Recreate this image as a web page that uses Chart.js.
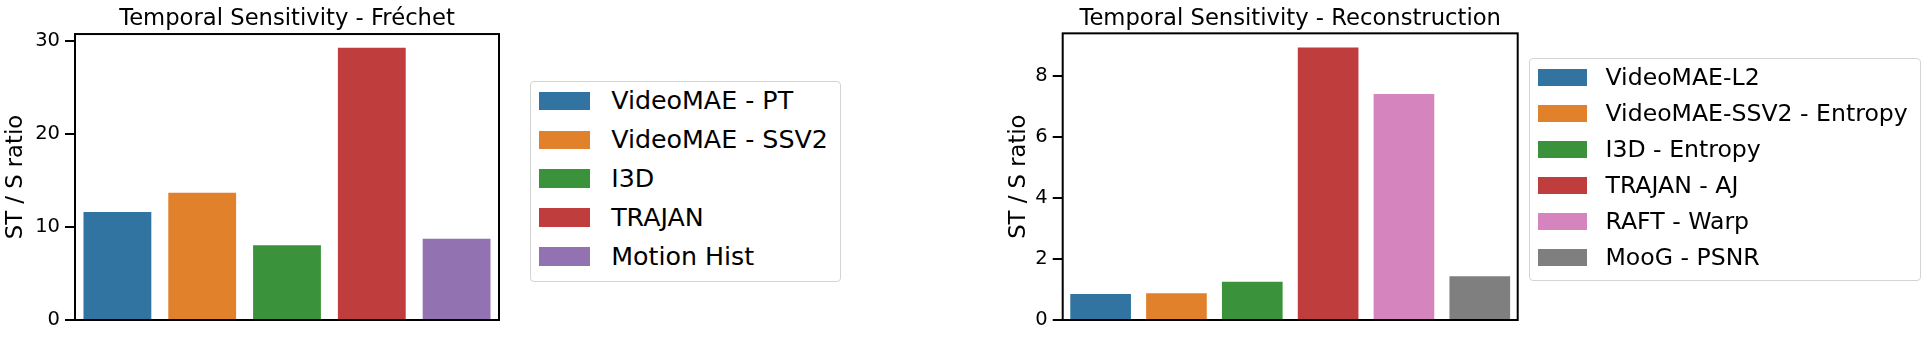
<!DOCTYPE html>
<html>
<head>
<meta charset="utf-8">
<script src="https://cdn.jsdelivr.net/npm/chart.js@4.4.1/dist/chart.umd.min.js"></script>
<style>
  html, body { margin: 0; padding: 0; background: #fff; }
  body { width: 1924px; height: 338px; position: relative; overflow: hidden; font-family: "DejaVu Sans", sans-serif; }
  canvas { position: absolute; top: 0; }
  .legend { position: absolute; box-sizing: border-box; border: 1.5px solid #d4d4d4; border-radius: 4px; background: rgba(255,255,255,0.85); }
  .row { position: absolute; display: flex; align-items: center; white-space: nowrap; color: #000; }
  .patch { display: inline-block; box-sizing: border-box; flex: none; }
  .lbl { line-height: 1; }
</style>
</head>
<body>
<canvas id="c1" width="525" height="338" style="left:0px"></canvas>
<canvas id="c2" width="540" height="338" style="left:1000px"></canvas>
<div id="leg1" class="legend"></div>
<div id="leg2" class="legend"></div>
<script>
// ---- data ----
const frechetCategories = ["VideoMAE - PT", "VideoMAE - SSV2", "I3D", "TRAJAN", "Motion Hist"];
const frechetValues = [11.63, 13.71, 8.04, 29.32, 8.76];
const frechetColors = ["#3274a1", "#e1812c", "#3a923a", "#c03d3e", "#9372b2"];
const frechetTicks = [0, 10, 20, 30];
const frechetMax = 30.79;

const reconCategories = ["VideoMAE-L2", "VideoMAE-SSV2 - Entropy", "I3D - Entropy", "TRAJAN - AJ", "RAFT - Warp", "MooG - PSNR"];
const reconValues = [0.85, 0.873, 1.255, 8.93, 7.40, 1.43];
const reconColors = ["#3274a1", "#e1812c", "#3a923a", "#c03d3e", "#d684bd", "#7f7f7f"];
const reconTicks = [0, 2, 4, 6, 8];
const reconMax = 9.39;

const yLabel = "ST / S ratio";
const titleLeft = "Temporal Sensitivity - Fréchet";
const titleRight = "Temporal Sensitivity - Reconstruction";

const FONT = "DejaVu Sans";

const framePlugin = {
  id: 'frame',
  afterDatasetsDraw(chart) {
    const {ctx, chartArea: a} = chart;
    ctx.save();
    ctx.strokeStyle = '#000';
    ctx.lineWidth = 2;
    ctx.strokeRect(a.left, a.top, a.right - a.left, a.bottom - a.top);
    ctx.restore();
  }
};

function makeChart(id, cats, vals, colors, ticks, ymax, title, cfg) {
  return new Chart(document.getElementById(id), {
    type: 'bar',
    data: {
      labels: cats,
      datasets: [{
        data: vals,
        backgroundColor: colors,
        borderWidth: 0,
        categoryPercentage: 1.0,
        barPercentage: 0.8
      }]
    },
    options: {
      responsive: false,
      animation: false,
      devicePixelRatio: 1,
      layout: { padding: { left: cfg.padLeft, top: 0, right: cfg.padRight, bottom: cfg.padBottom } },
      plugins: {
        legend: { display: false },
        tooltip: { enabled: false },
        title: {
          display: true,
          fullSize: false,
          align: 'center',
          text: title,
          color: '#000',
          font: { family: FONT, size: 22.7, weight: 'normal' },
          padding: { top: cfg.titleTop, bottom: cfg.titleBottom }
        }
      },
      scales: {
        x: { display: false },
        y: {
          min: 0,
          max: ymax,
          afterBuildTicks(s) { s.ticks = ticks.map(v => ({ value: v })); },
          afterFit(s) { s.width = cfg.yWidth; },
          border: { display: false },
          grid: { display: true, drawOnChartArea: false, drawTicks: true, tickLength: 10, color: '#000', lineWidth: 2 },
          ticks: { color: '#000', padding: 5, font: { family: FONT, size: 19.5 } },
          title: {
            display: true,
            text: yLabel,
            color: '#000',
            font: { family: FONT, size: 22.7, weight: 'normal' },
            padding: { top: cfg.yTitlePad, bottom: 0 }
          }
        }
      }
    },
    plugins: [framePlugin]
  });
}

makeChart('c1', frechetCategories, frechetValues, frechetColors, frechetTicks, frechetMax, titleLeft,
  { padLeft: 0, padRight: 26, padBottom: 18, titleTop: 5.8, titleBottom: 1, yWidth: 75, yTitlePad: 2 });
makeChart('c2', reconCategories, reconValues, reconColors, reconTicks, reconMax, titleRight,
  { padLeft: 0, padRight: 22.3, padBottom: 18, titleTop: 5.2, titleBottom: 0.9, yWidth: 62.7, yTitlePad: 5 });

function makeLegend(id, cats, colors, g) {
  const el = document.getElementById(id);
  el.style.left = g.left + 'px';
  el.style.top = g.top + 'px';
  el.style.width = g.w + 'px';
  el.style.height = g.h + 'px';
  cats.forEach((c, i) => {
    const row = document.createElement('div');
    row.className = 'row';
    row.style.left = (g.patchLeft - g.left - 1.5) + 'px';
    row.style.top = (g.firstTop - g.top - 1.5 + i * g.step) + 'px';
    row.style.height = g.patchH + 'px';
    const p = document.createElement('span');
    p.className = 'patch';
    p.style.width = g.patchW + 'px';
    p.style.height = g.patchH + 'px';
    p.style.background = colors[i];
    const t = document.createElement('span');
    t.className = 'lbl';
    t.style.fontSize = g.font + 'px';
    t.style.marginLeft = (g.textLeft - g.patchLeft - g.patchW) + 'px';
    t.textContent = c;
    row.appendChild(p);
    row.appendChild(t);
    el.appendChild(row);
  });
}

makeLegend('leg1', frechetCategories, frechetColors,
  { left: 530, top: 81, w: 310.7, h: 200.7, patchLeft: 539.3, patchW: 51.7, patchH: 18.7, firstTop: 92.2, step: 38.8, textLeft: 611.7, font: 25.3 });
makeLegend('leg2', reconCategories, reconColors,
  { left: 1529.3, top: 58.3, w: 391.4, h: 222.7, patchLeft: 1539, patchW: 48.5, patchH: 17.7, firstTop: 69.2, step: 36, textLeft: 1606, font: 23.6 });
</script>
</body>
</html>
